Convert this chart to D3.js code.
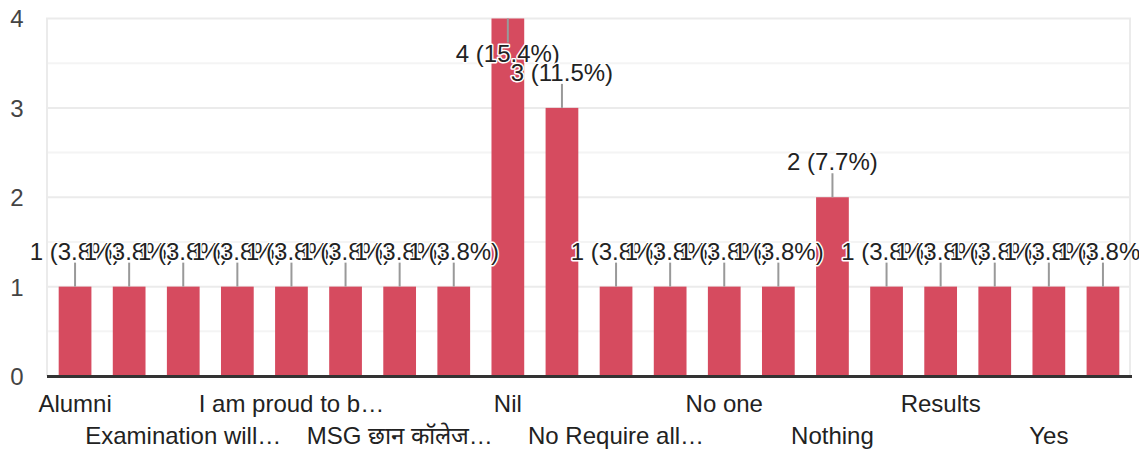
<!DOCTYPE html>
<html>
<head>
<meta charset="utf-8">
<script src="https://cdn.jsdelivr.net/npm/d3@7"></script>
<style>
  html, body { margin: 0; padding: 0; background: #fff; }
  svg { display: block; }
</style>
</head>
<body>
<svg id="chart" width="1139" height="453"></svg>
<script>
const categories = [
  "Alumni", "Best college", "Examination will\u2026", "Good",
  "I am proud to b\u2026", "Infrastructure", "MSG \u091b\u093e\u0928 \u0915\u0949\u0932\u0947\u091c\u2026", "Need more events",
  "Nil", "No", "No Require all\u2026", "No comments",
  "No one", "Not now", "Nothing", "Overall good",
  "Results", "Teachers are good", "Yes", "Yes, of course"
];
const counts = [1, 1, 1, 1, 1, 1, 1, 1, 4, 3, 1, 1, 1, 1, 2, 1, 1, 1, 1, 1];
const yTicks = [0, 1, 2, 3, 4];
const yMinorTicks = [0.5, 1.5, 2.5, 3.5];

const total = d3.sum(counts);
const data = categories.map((c, i) => ({ cat: c, value: counts[i], i }));

const svg = d3.select("#chart");
const font = "'Liberation Sans', Arial, Helvetica, sans-serif";

const x = d3.scaleBand().domain(categories).range([47, 1131]).paddingInner(0.395).paddingOuter(0.216);
const y = d3.scaleLinear().domain([0, 4]).range([376, 18.5]);
const xLeft = 46, xRight = 1131;

// minor gridlines
svg.append("g").selectAll("line").data(yMinorTicks).join("line")
  .attr("x1", xLeft).attr("x2", xRight)
  .attr("y1", d => y(d)).attr("y2", d => y(d))
  .attr("stroke", "#f4f4f4").attr("stroke-width", 2);
// major gridlines
svg.append("g").selectAll("line").data(yTicks.filter(d => d > 0)).join("line")
  .attr("x1", xLeft).attr("x2", xRight)
  .attr("y1", d => y(d)).attr("y2", d => y(d))
  .attr("stroke", "#ebebeb").attr("stroke-width", 2);
// frame lines left / right
[xLeft + 1, xRight - 1].forEach(px => {
  svg.append("line").attr("x1", px).attr("x2", px)
    .attr("y1", y(4)).attr("y2", y(0))
    .attr("stroke", "#ebebeb").attr("stroke-width", 2);
});

// y axis labels
const yAxis = d3.axisLeft(y).tickValues(yTicks).tickSize(0).tickPadding(0).tickFormat(d3.format("d"));
const ya = svg.append("g").attr("transform", "translate(17,0)").call(yAxis);
ya.select(".domain").remove();
ya.selectAll("text").attr("text-anchor", "middle").attr("dy", "0.35em")
  .style("font-family", font).style("font-size", "24px").attr("fill", "#444");

// bars
svg.append("g").selectAll("rect").data(data).join("rect")
  .attr("x", d => x(d.cat)).attr("width", x.bandwidth())
  .attr("y", d => y(d.value)).attr("height", d => y(0) - y(d.value))
  .attr("fill", "#d64b5f");

// baseline
svg.append("line").attr("x1", xLeft + 1).attr("x2", xRight + 1)
  .attr("y1", y(0) + 0.5).attr("y2", y(0) + 0.5)
  .attr("stroke", "#333").attr("stroke-width", 3);

// x axis labels (alternate rows)
const xAxis = d3.axisBottom(x).tickSize(0).tickPadding(0)
  .tickFormat((d, i) => i % 2 === 0 ? d : "");
const xa = svg.append("g").call(xAxis);
xa.select(".domain").remove();
xa.selectAll(".tick").each(function(d, i) {
  const t = d3.select(this).select("text");
  if (i % 4 === 0) t.attr("y", 412).attr("dy", 0);
  else t.attr("y", 444).attr("dy", 0);
});
xa.selectAll("text").style("font-family", font).style("font-size", "24px").attr("fill", "#222");

// annotations
const maxV = d3.max(counts);
const stemLen = 24;
const ann = svg.append("g");
data.forEach(d => {
  const cx = x(d.cat) + x.bandwidth() / 2;
  const top = y(d.value);
  const flip = d.value === maxV;
  const end = flip ? top + stemLen : top - stemLen;
  ann.append("line").attr("x1", cx).attr("x2", cx).attr("y1", top).attr("y2", end)
    .attr("stroke", "#999").attr("stroke-width", 2);
  ann.append("text").attr("x", cx).attr("y", flip ? end + 19 : end - 3)
    .attr("text-anchor", "middle")
    .style("font-family", font).style("font-size", "24px")
    .attr("fill", "#222").attr("stroke", "#fff").attr("stroke-width", 3)
    .attr("paint-order", "stroke").attr("stroke-linejoin", "round")
    .text(`${d.value} (${(d.value / total * 100).toFixed(1)}%)`);
});
</script>
</body>
</html>
